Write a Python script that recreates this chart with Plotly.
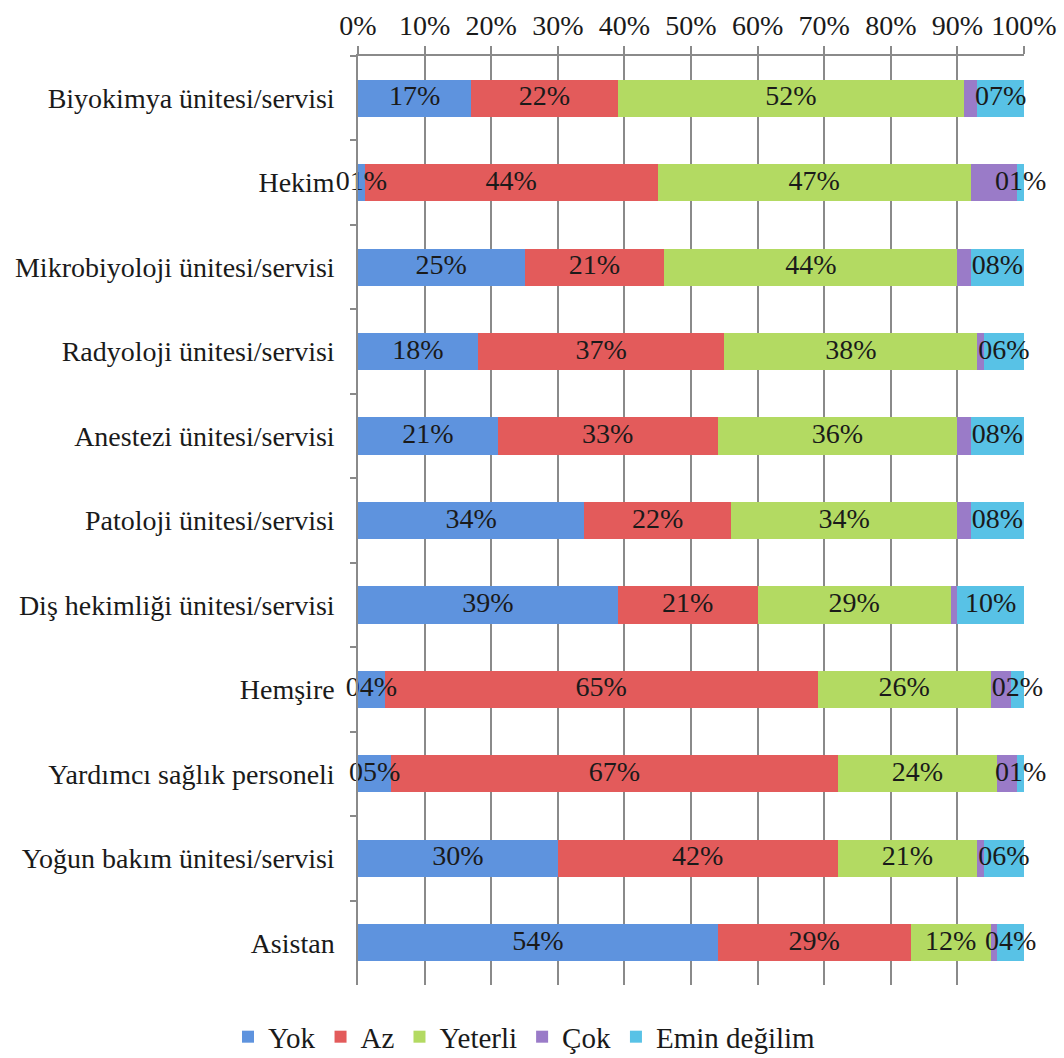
import plotly.graph_objects as go

# Survey categories (top to bottom) and response shares in percent
categories = [
    "Biyokimya ünitesi/servisi",
    "Hekim",
    "Mikrobiyoloji ünitesi/servisi",
    "Radyoloji ünitesi/servisi",
    "Anestezi ünitesi/servisi",
    "Patoloji ünitesi/servisi",
    "Diş hekimliği ünitesi/servisi",
    "Hemşire",
    "Yardımcı sağlık personeli",
    "Yoğun bakım ünitesi/servisi",
    "Asistan",
]
yok = [17, 1, 25, 18, 21, 34, 39, 4, 5, 30, 54]
az = [22, 44, 21, 37, 33, 22, 21, 65, 67, 42, 29]
yeterli = [52, 47, 44, 38, 36, 34, 29, 26, 24, 21, 12]
cok = [2, 7, 2, 1, 2, 2, 1, 3, 3, 1, 1]
emin = [7, 1, 8, 6, 8, 8, 10, 2, 1, 6, 4]

series_names = ["Yok", "Az", "Yeterli", "Çok", "Emin değilim"]
tick_values = list(range(0, 101, 10))

FONT = "Liberation Serif"
SIZE = 28
TEXT_COLOR = "#1a1a1a"

series = [
    ("Yok", yok, "#5E93DE", True),
    ("Az", az, "#E35B5B", True),
    ("Yeterli", yeterli, "#B3DA62", True),
    ("Çok", cok, "#9A7BC8", False),
    ("Emin değilim", emin, "#58C2E6", True),
]

fig = go.Figure()

# Stacked bars
for name, vals, color, _ in series:
    fig.add_trace(go.Bar(
        name=name,
        y=categories,
        x=vals,
        orientation="h",
        marker=dict(color=color, line=dict(width=0)),
        hoverinfo="skip",
    ))

# Value labels sit on a layer above every bar so they may spill over neighbours
running = [0] * len(categories)
for name, vals, _, labelled in series:
    centers = [r + v / 2 for r, v in zip(running, vals)]
    running = [r + v for r, v in zip(running, vals)]
    if not labelled:
        continue
    fig.add_trace(go.Scatter(
        x=centers,
        y=categories,
        mode="text",
        text=[f"{v:02d}%" for v in vals],
        textposition="middle center",
        textfont=dict(family=FONT, size=SIZE, color=TEXT_COLOR),
        cliponaxis=False,
        showlegend=False,
        hoverinfo="skip",
    ))

fig.update_layout(
    barmode="stack",
    bargap=0.56,
    width=1064,
    height=1058,
    margin=dict(l=358, r=40, t=56, b=73, autoexpand=False),
    paper_bgcolor="white",
    plot_bgcolor="white",
    font=dict(family=FONT, size=SIZE, color=TEXT_COLOR),
    showlegend=True,
    legend=dict(
        orientation="h",
        x=0.25,
        xanchor="center",
        yref="container",
        y=0.02,
        yanchor="middle",
        font=dict(family=FONT, size=29, color=TEXT_COLOR),
        itemwidth=30,
        traceorder="normal",
    ),
    xaxis=dict(
        side="top",
        range=[0, 100],
        tickvals=tick_values,
        ticktext=[f"{v}%" for v in tick_values],
        ticks="outside",
        ticklen=8,
        tickwidth=1.5,
        tickcolor="#8a8a8a",
        showline=True,
        linecolor="#8a8a8a",
        linewidth=1.5,
        showgrid=True,
        gridcolor="#8a8a8a",
        gridwidth=1.5,
        zeroline=False,
        tickfont=dict(family=FONT, size=SIZE, color=TEXT_COLOR),
    ),
    yaxis=dict(
        categoryorder="array",
        categoryarray=categories,
        range=[len(categories) - 0.5, -0.5],
        autorange=False,
        ticks="outside",
        tickson="boundaries",
        ticklen=6,
        tickwidth=1.5,
        tickcolor="#8a8a8a",
        showline=True,
        linecolor="#8a8a8a",
        linewidth=1.5,
        showgrid=False,
        tickfont=dict(family=FONT, size=SIZE, color=TEXT_COLOR),
        ticklabelstandoff=16,
    ),
)

fig.write_html("out.html")
